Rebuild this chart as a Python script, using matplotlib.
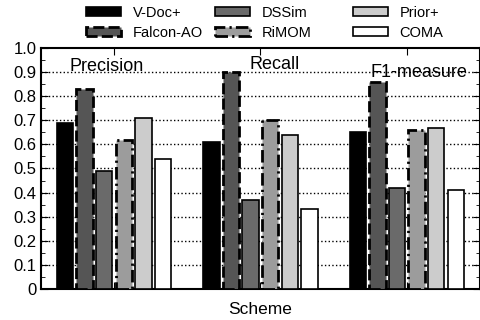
import matplotlib.pyplot as plt
import numpy as np
from matplotlib.ticker import MultipleLocator

plt.rcParams['font.family'] = ['Liberation Sans', 'DejaVu Sans']

metrics = ['Precision', 'Recall', 'F1-measure']
systems = ['V-Doc+', 'Falcon-AO', 'DSSim', 'RiMOM', 'Prior+', 'COMA']
vdoc = [0.69, 0.61, 0.65]
falcon = [0.83, 0.90, 0.86]
dssim = [0.49, 0.37, 0.42]
rimom = [0.62, 0.70, 0.66]
prior = [0.71, 0.64, 0.67]
coma = [0.54, 0.33, 0.41]
values = [vdoc, falcon, dssim, rimom, prior, coma]
ytick_labels = ['0', '0.1', '0.2', '0.3', '0.4', '0.5', '0.6', '0.7', '0.8', '0.9', '1.0']

colours = ['#000000', '#555555', '#6a6a6a', '#9c9c9c', '#cccccc', '#ffffff']
styles = ['-', (0, (4, 1.5)), '-', (0, (4.5, 1.5, 0.8, 1.5)), '-', '-']
widths = [1.2, 2.0, 1.2, 2.0, 1.2, 1.2]

fig = plt.figure(figsize=(4.81, 3.2), dpi=100)
ax = fig.add_axes([0.085, 0.097, 0.913, 0.753])

x = np.arange(len(metrics))
pitch = 0.134
bar_w = 0.112
handles = []
for i, (name, vals) in enumerate(zip(systems, values)):
    b = ax.bar(x + (i - 2.5) * pitch, vals, bar_w, color=colours[i], edgecolor='black',
               linewidth=widths[i], linestyle=styles[i], label=name, zorder=3)
    handles.append(b)

ax.set_xlim(-0.5, 2.5)
ax.set_ylim(0, 1.0)
ax.yaxis.set_minor_locator(MultipleLocator(0.05))
ax.set_yticks(np.arange(0, 1.01, 0.1))
ax.set_yticklabels(ytick_labels)
ax.set_xticks(x)
ax.set_xticklabels([])
ax.tick_params(axis='both', which='both', direction='in', top=True, right=True)
ax.tick_params(axis='y', which='major', length=5, labelsize=12, pad=3)
ax.tick_params(axis='y', which='minor', length=3)
ax.tick_params(axis='x', length=5)
for s in ax.spines.values():
    s.set_linewidth(1.5)

for v in np.arange(0.1, 0.95, 0.1):
    ax.axhline(v, color='black', linestyle=':', linewidth=1.0, zorder=1)

label_pos = [(-0.048, 0.925), (1.10, 0.93), (2.085, 0.90)]
for name, (lx, ly) in zip(metrics, label_pos):
    ax.text(lx, ly, name, ha='center', va='center', fontsize=13, zorder=2)

ax.set_xlabel('Scheme', fontsize=12.5, labelpad=6)

# one legend per column so the columns sit where the reference has them
col_x = [86, 215, 353]
for c in range(3):
    leg = fig.legend(handles[2 * c:2 * c + 2], systems[2 * c:2 * c + 2],
                     loc='upper left', bbox_to_anchor=(col_x[c] / 481, 1 - 6 / 320),
                     frameon=False, fontsize=10.5, handlelength=2.4, handleheight=0.6,
                     labelspacing=0.4, borderpad=0, borderaxespad=0, handletextpad=0.8)

fig.savefig('out.png', dpi=100)
